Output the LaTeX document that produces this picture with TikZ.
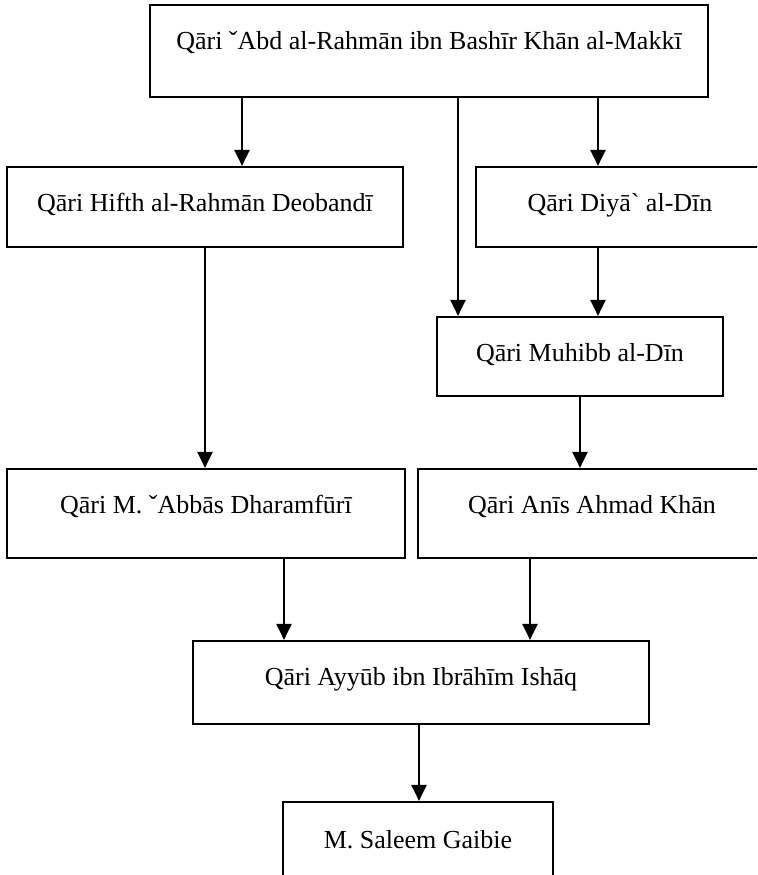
\documentclass[tikz,border=0pt]{standalone}
\usepackage{fontspec}
\usepackage{tikz}
\usetikzlibrary{arrows.meta}
\newfontfamily\namefont{Liberation Serif}
\definecolor{ink}{HTML}{000000}
\tikzset{
  box/.style 2 args={draw=ink, line width=1.1pt, inner sep=0pt,
    minimum width=#1, minimum height=#2},
  who/.style={label={[anchor=center, yshift=-19.5pt, text=ink,
    font=\namefont\fontsize{13}{15.6}\selectfont]north:#1}},
  arr/.style={draw=ink, line width=1.1pt, -{Triangle[length=8pt, width=7.5pt]}}
}

\begin{document}
\begin{tikzpicture}[x=0.5pt, y=-0.5pt]
  \clip (0,0) rectangle (757,875);

  % boxes, placed at their centres (pixel grid)
  \node[box={279pt}{46pt}, who={Qāri ˇAbd al-Rahmān ibn Bashīr Khān al-Makkī}] (abd) at (429,51) {};
  \node[box={198pt}{40pt}, who={Qāri Hifth al-Rahmān Deobandī}] (hifth) at (205,207) {};
  \node[box={144pt}{40pt}, who={Qāri Diyā` al-Dīn}] (diya) at (620,207) {};
  \node[box={143pt}{39.5pt}, who={Qāri Muhibb al-Dīn}] (muhibb) at (580,356.5) {};
  \node[box={199pt}{44.5pt}, who={Qāri M. ˇAbbās Dharamfūrī}] (abbas) at (206,513.5) {};
  \node[box={174pt}{44.5pt}, who={Qāri Anīs Ahmad Khān}] (anis) at (592,513.5) {};
  \node[box={228pt}{41.5pt}, who={Qāri Ayyūb ibn Ibrāhīm Ishāq}] (ayyub) at (421,682.5) {};
  \node[box={135pt}{50pt}, who={M. Saleem Gaibie}] (saleem) at (418,852) {};

  % links
  \draw[arr] (abd.south -| 242,0) -- (hifth.north -| 242,0);
  \draw[arr] (abd.south -| 458,0) -- (muhibb.north -| 458,0);
  \draw[arr] (abd.south -| 598,0) -- (diya.north -| 598,0);
  \draw[arr] (hifth.south -| 205,0) -- (abbas.north -| 205,0);
  \draw[arr] (diya.south -| 598,0) -- (muhibb.north -| 598,0);
  \draw[arr] (muhibb.south -| 580,0) -- (anis.north -| 580,0);
  \draw[arr] (abbas.south -| 284,0) -- (ayyub.north -| 284,0);
  \draw[arr] (anis.south -| 530,0) -- (ayyub.north -| 530,0);
  \draw[arr] (ayyub.south -| 419,0) -- (saleem.north -| 419,0);
\end{tikzpicture}
\end{document}
